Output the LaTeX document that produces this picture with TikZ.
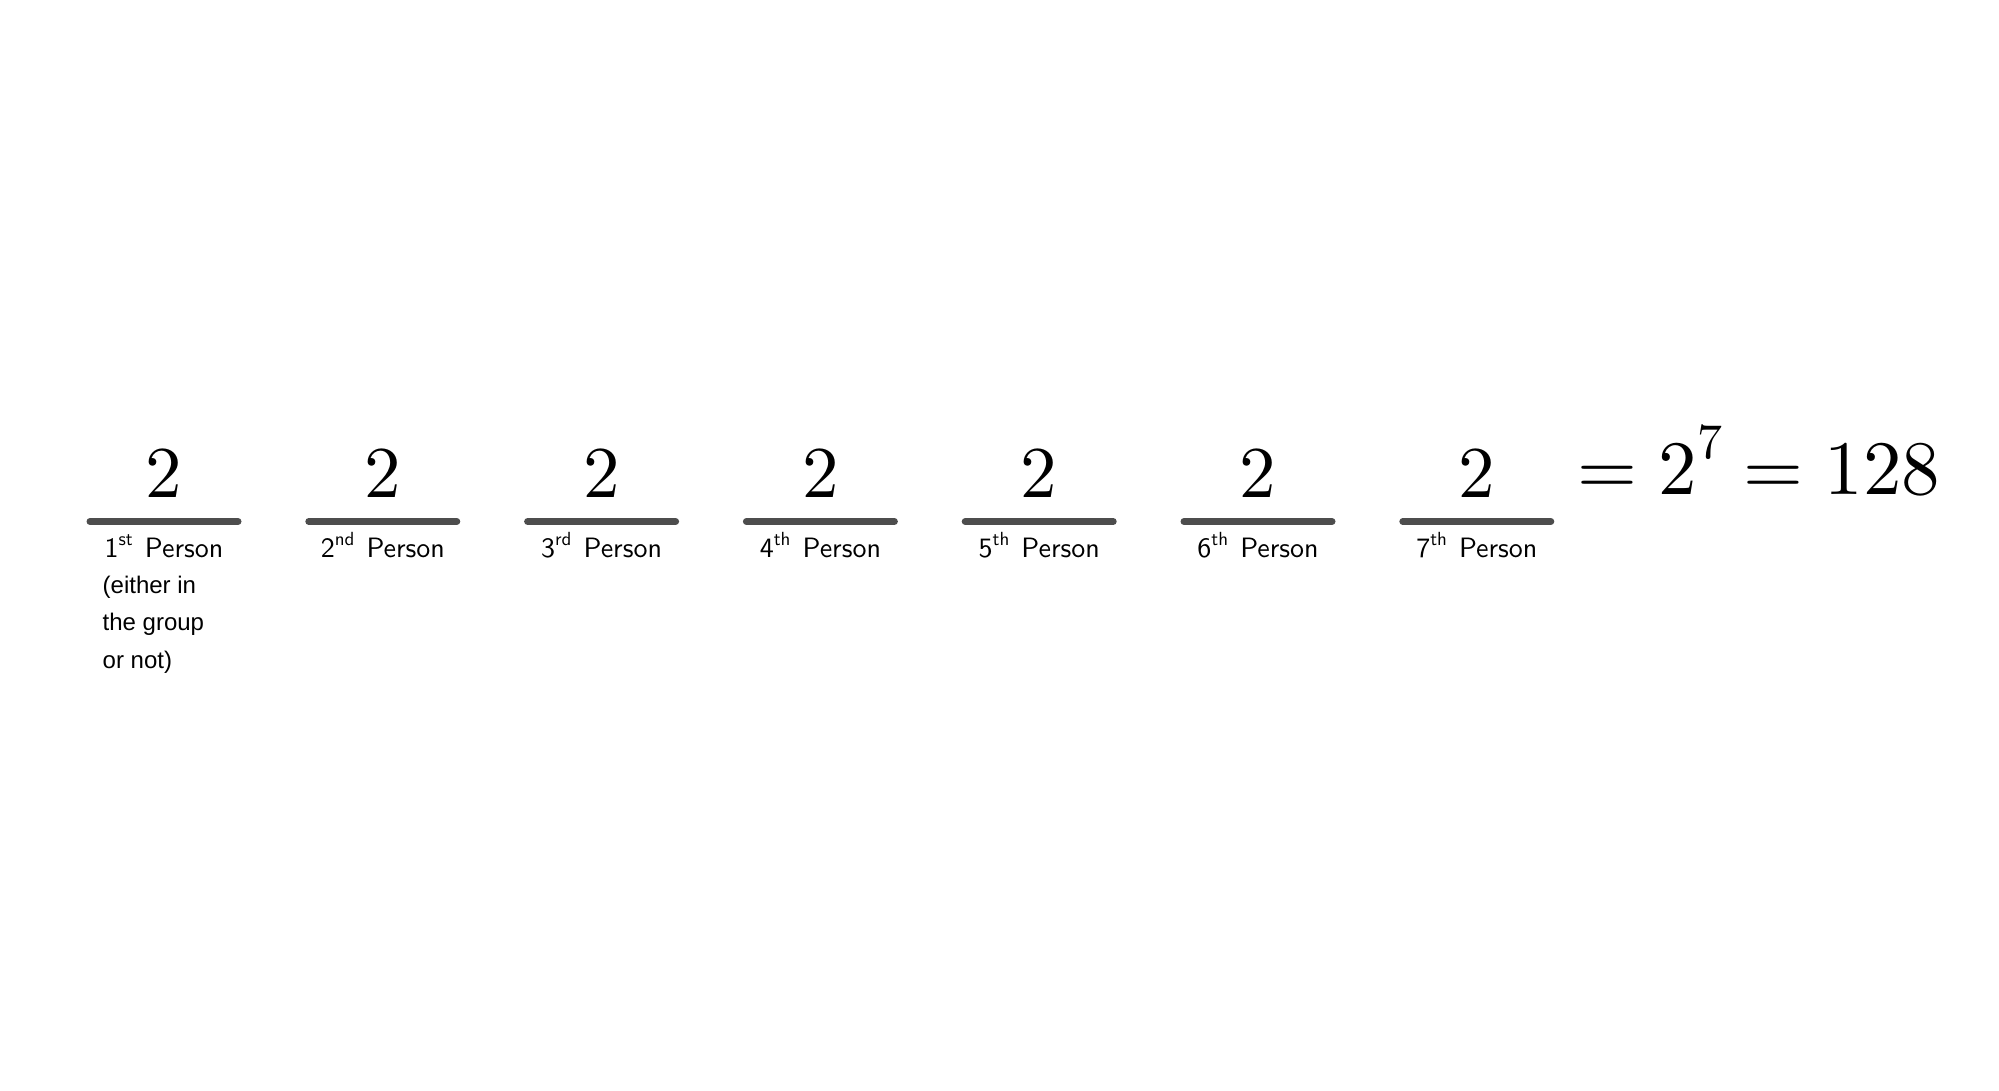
\documentclass[tikz,border=0pt]{standalone}
\usepackage{fontspec}
\newfontfamily\arialfont{Liberation Sans}
\newfontfamily\lmten{lmroman10-regular}[Extension=.otf]
\newfontfamily\lmsten{lmsans10-regular}[Extension=.otf]
\definecolor{barcol}{HTML}{4D4D4D}
\tikzset{
  slotbar/.style={line width=7pt, line cap=round, draw=barcol},
  digit/.style={anchor=base, inner sep=0pt, font=\lmten\fontsize{73}{73}\selectfont},
  plabel/.style={anchor=base, inner sep=0pt, font=\lmsten\fontsize{28}{28}\selectfont},
  note/.style={anchor=base west, inner sep=0pt, font=\arialfont\fontsize{24}{24}\selectfont},
  eqn/.style={anchor=base west, inner sep=0pt, font=\lmten\fontsize{77}{77}\selectfont}
}
\newcommand{\supseven}{\raisebox{36pt}{\fontsize{50}{50}\selectfont 7}}
\newcommand{\supsm}[1]{\raisebox{0.42em}{\fontsize{19}{19}\selectfont #1}}
\begin{document}
\begin{tikzpicture}[x=1pt,y=-1pt]
\useasboundingbox (0,0) rectangle (1999,1090);
\foreach \i/\sup in {1/st,2/nd,3/rd,4/th,5/th,6/th,7/th}{
  \pgfmathsetmacro{\cx}{164+218.8*(\i-1)}
  \coordinate (L\i) at (\cx-74,521.5);
  \coordinate (R\i) at (\cx+74,521.5);
  \draw[slotbar] (L\i) -- (R\i);
  \node[digit] (d\i) at (\cx,497) {2};
  \node[plabel] (p\i) at (\cx,557) {\i\supsm{\sup}\hspace{0.1em} Person};
}
\node[note] (n1) at (102.5,593) {(either in};
\node[note] (n2) at (102.5,630.5) {the group};
\node[note] (n3) at (102.5,668) {or not)};
\node[eqn] (eq) at (1577,494) {=\hspace{21.4pt}2\supseven\hspace{21.4pt}=\hspace{21.4pt}128};
\end{tikzpicture}
\end{document}
